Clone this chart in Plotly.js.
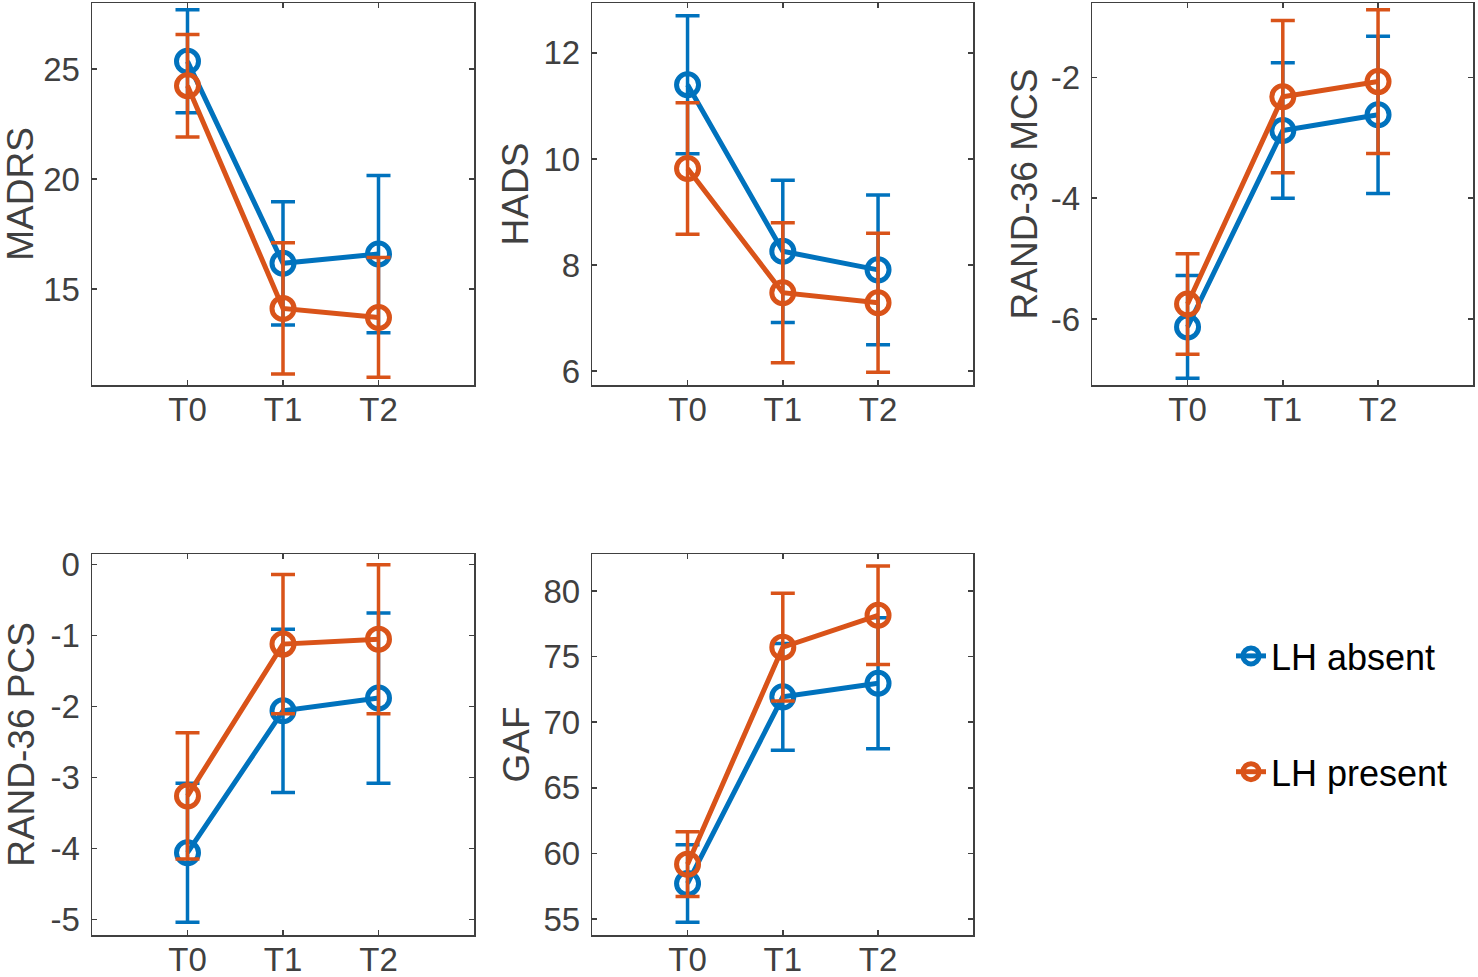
<!DOCTYPE html>
<html>
<head>
<meta charset="utf-8">
<script src="https://cdn.plot.ly/plotly-3.0.1.min.js"></script>
<style>html,body{margin:0;padding:0;background:#fff;}#chart{width:1478px;height:977px;}</style>
</head>
<body>
<div id="chart"></div>
<script>
// ---- data ----
const categories = ['T0', 'T1', 'T2'];
const seriesNames = ['LH absent', 'LH present'];

const madrsAbsent = [25.35, 16.17, 16.59];
const madrsAbsentErr = [2.34, 2.80, 3.57];
const madrsPresent = [24.24, 14.12, 13.71];
const madrsPresentErr = [2.33, 2.98, 2.72];

const hadsAbsent = [11.40, 8.26, 7.91];
const hadsAbsentErr = [1.30, 1.34, 1.41];
const hadsPresent = [9.82, 7.48, 7.29];
const hadsPresentErr = [1.24, 1.32, 1.31];

const mcsAbsent = [-6.13, -2.88, -2.62];
const mcsAbsentErr = [0.85, 1.12, 1.30];
const mcsPresent = [-5.75, -2.32, -2.07];
const mcsPresentErr = [0.83, 1.26, 1.19];

const pcsAbsent = [-4.06, -2.06, -1.88];
const pcsAbsentErr = [0.98, 1.15, 1.20];
const pcsPresent = [-3.26, -1.12, -1.05];
const pcsPresentErr = [0.89, 0.98, 1.05];

const gafAbsent = [57.71, 71.93, 72.97];
const gafAbsentErr = [2.95, 4.06, 5.00];
const gafPresent = [59.18, 75.72, 78.15];
const gafPresentErr = [2.47, 4.10, 3.76];

const panelTitles = ['MADRS', 'HADS', 'RAND-36 MCS', 'RAND-36 PCS', 'GAF'];
const madrsTicks = [15, 20, 25];
const madrsTickText = ['15', '20', '25'];
const hadsTicks = [6, 8, 10, 12];
const hadsTickText = ['6', '8', '10', '12'];
const mcsTicks = [-6, -4, -2];
const mcsTickText = ['-6', '-4', '-2'];
const pcsTicks = [-5, -4, -3, -2, -1, 0];
const pcsTickText = ['-5', '-4', '-3', '-2', '-1', '0'];
const gafTicks = [55, 60, 65, 70, 75, 80];
const gafTickText = ['55', '60', '65', '70', '75', '80'];
const madrsRange = [10.64, 28.0];
const hadsRange = [5.74, 12.94];
const mcsRange = [-7.09, -0.77];
const pcsRange = [-5.22, 0.15];
const gafRange = [53.78, 82.82];

// ---- build ----
const W = 1478, H = 977;
const colors = ['#0072BD', '#D95319'];
const panels = [
  {abs: madrsAbsent, absE: madrsAbsentErr, pre: madrsPresent, preE: madrsPresentErr, ticks: madrsTicks, text: madrsTickText, range: madrsRange},
  {abs: hadsAbsent, absE: hadsAbsentErr, pre: hadsPresent, preE: hadsPresentErr, ticks: hadsTicks, text: hadsTickText, range: hadsRange},
  {abs: mcsAbsent, absE: mcsAbsentErr, pre: mcsPresent, preE: mcsPresentErr, ticks: mcsTicks, text: mcsTickText, range: mcsRange},
  {abs: pcsAbsent, absE: pcsAbsentErr, pre: pcsPresent, preE: pcsPresentErr, ticks: pcsTicks, text: pcsTickText, range: pcsRange},
  {abs: gafAbsent, absE: gafAbsentErr, pre: gafPresent, preE: gafPresentErr, ticks: gafTicks, text: gafTickText, range: gafRange}
];
// pixel boxes of each plot area [left, right, top, bottom]
const boxes = [
  [92, 474, 3, 385],
  [592.3, 973.3, 3, 385],
  [1092.3, 1473.3, 3, 385],
  [92, 474, 554, 935],
  [592.3, 973.3, 554, 935]
];
const titleStandoffs = [14, 3, 2, 4, 2];

const data = [];
const layout = {
  width: W, height: H,
  margin: {l: 0, r: 0, t: 0, b: 0},
  paper_bgcolor: '#fff', plot_bgcolor: '#fff',
  font: {family: 'Liberation Sans, Arial, sans-serif', color: '#404040'},
  showlegend: true,
  legend: {
    x: 1231 / W, y: 1 - 626 / H, xanchor: 'left', yanchor: 'top',
    font: {size: 36, color: '#000'},
    traceorder: 'grouped', tracegroupgap: 66,
    bgcolor: 'rgba(0,0,0,0)'
  }
};

panels.forEach((p, i) => {
  const n = i + 1;
  const xa = 'x' + (n === 1 ? '' : n), ya = 'y' + (n === 1 ? '' : n);
  const series = [[p.abs, p.absE], [p.pre, p.preE]];
  series.forEach((s, k) => {
    data.push({
      type: 'scatter', mode: 'lines+markers',
      x: categories, y: s[0],
      xaxis: xa, yaxis: ya,
      name: seriesNames[k], legendgroup: seriesNames[k],
      showlegend: i === 0,
      line: {color: colors[k], width: 5},
      marker: {symbol: 'circle-open', size: 22, color: colors[k], line: {width: 5, color: colors[k]}},
      error_y: {type: 'data', array: s[1], visible: true, color: colors[k], thickness: 3.5, width: 12}
    });
  });
  const b = boxes[i];
  const axCommon = {
    showline: true, linecolor: '#404040', linewidth: 1.5, mirror: 'ticks',
    ticks: 'inside', ticklen: 5, tickwidth: 1.5, tickcolor: '#404040',
    showgrid: false, zeroline: false, fixedrange: true,
    tickfont: {size: 33, color: '#404040'}
  };
  layout['xaxis' + (n === 1 ? '' : n)] = Object.assign({}, axCommon, {
    domain: [b[0] / W, b[1] / W], anchor: ya,
    type: 'category', categoryorder: 'array', categoryarray: categories,
    range: [-1, 3], ticklabelstandoff: -5
  });
  layout['yaxis' + (n === 1 ? '' : n)] = Object.assign({}, axCommon, {
    domain: [1 - b[3] / H, 1 - b[2] / H], anchor: xa,
    range: p.range, tickvals: p.ticks, ticktext: p.text, ticklabelstandoff: 4,
    title: {text: panelTitles[i], font: {size: 37, color: '#404040'}, standoff: titleStandoffs[i]}
  });
});

Plotly.newPlot('chart', data, layout, {displayModeBar: false, staticPlot: true});
</script>
</body>
</html>
